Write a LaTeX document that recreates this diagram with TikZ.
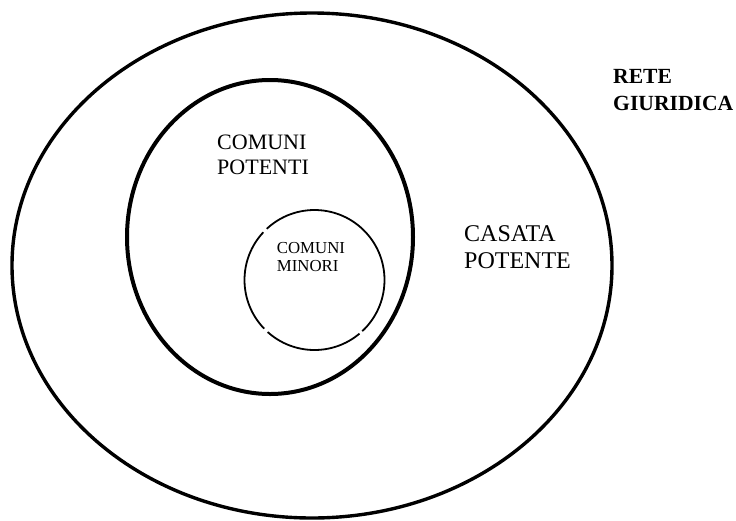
\documentclass[tikz,border=0pt]{standalone}
\usepackage{fontspec}
\setmainfont{Liberation Serif}
\begin{document}
\begin{tikzpicture}[x=1pt,y=-1pt,
  ring/.style={draw=black},
  lbl/.style={inner sep=0pt,anchor=base west,align=left},
]
\useasboundingbox (0,0) rectangle (736,520);
% outer ellipse: casata potente
\draw[ring,line width=3.4pt] (312,265.5) ellipse [x radius=300pt, y radius=252.5pt];
% middle ellipse: comuni potenti
\draw[ring,line width=4pt] (270,237) ellipse [x radius=143pt, y radius=157pt];
% inner circle: comuni minori (with small breaks)
\coordinate (ic) at (314.5,280);
\draw[ring,line width=1.8pt] ([shift={(137:70pt)}]ic) arc[start angle=137,end angle=224,radius=70pt];
\draw[ring,line width=1.8pt] ([shift={(228:70pt)}]ic) arc[start angle=228,end angle=310,radius=70pt];
\draw[ring,line width=1.8pt] ([shift={(313:70pt)}]ic) arc[start angle=313,end angle=493,radius=70pt];
% labels (anchor = baseline of the last line)
\node[lbl,font=\fontsize{21.6}{27}\selectfont\bfseries] (rete) at (613,110) {RETE\\GIURIDICA};
\node[lbl,font=\fontsize{22}{25}\selectfont] (potenti) at (217,174) {COMUNI\\POTENTI};
\node[lbl,font=\fontsize{24}{26.5}\selectfont] (casata) at (464,268) {CASATA\\POTENTE};
\node[lbl,font=\fontsize{16.8}{17.7}\selectfont] (minori) at (276.7,271) {COMUNI\\MINORI};
\end{tikzpicture}
\end{document}
